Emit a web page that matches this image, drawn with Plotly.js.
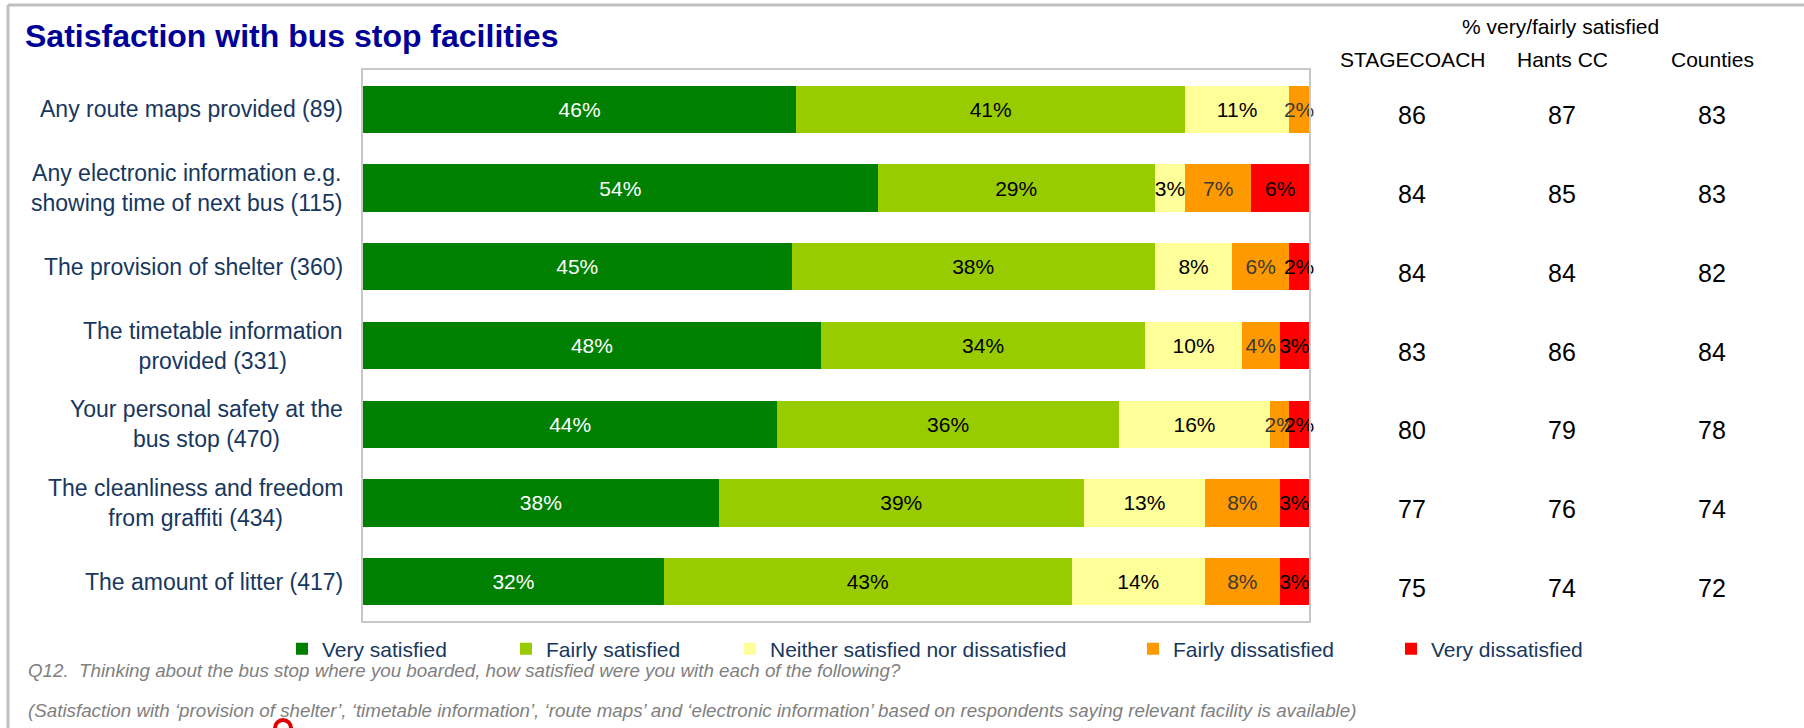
<!DOCTYPE html>
<html>
<head>
<meta charset="utf-8">
<script src="https://cdn.plot.ly/plotly-3.0.1.min.js"></script>
<style>
  html, body { margin: 0; padding: 0; background: #ffffff; }
  #chart { width: 1804px; height: 728px; }
</style>
</head>
<body>
<div id="chart"></div>
<script>
// ---------------- DATA ----------------
const categories = [
  "Any route maps provided (89)",
  "Any electronic information e.g.<br>showing time of next bus (115)",
  "The provision of shelter (360)",
  "The timetable information<br>provided (331)",
  "Your personal safety at the<br>bus stop (470)",
  "The cleanliness and freedom<br>from graffiti (434)",
  "The amount of litter (417)"
];
const seriesNames = ["Very satisfied", "Fairly satisfied", "Neither satisfied nor dissatisfied", "Fairly dissatisfied", "Very dissatisfied"];
const verySatisfied      = [45.8, 54.4, 45.3, 48.4, 43.8, 37.6, 31.8];
const fairlySatisfied    = [41.1, 29.3, 38.4, 34.3, 36.1, 38.6, 43.1];
const neitherSatisfied   = [11.0, 3.2, 8.2, 10.2, 16.0, 12.8, 14.1];
const fairlyDissatisfied = [2.1, 7.0, 6.0, 4.0, 2.0, 7.9, 7.9];
const veryDissatisfied   = [0, 6.1, 2.1, 3.1, 2.1, 3.1, 3.1];

const summaryHeader = "% very/fairly satisfied";
const summaryColumns = ["STAGECOACH", "Hants CC", "Counties"];
const stagecoach = [86, 84, 84, 83, 80, 77, 75];
const hantsCC    = [87, 85, 84, 86, 79, 76, 74];
const counties   = [83, 83, 82, 84, 78, 74, 72];

const titleText = "Satisfaction with bus stop facilities";
const note1 = "Q12.  Thinking about the bus stop where you boarded, how satisfied were you with each of the following?";
const note2 = "(Satisfaction with \u2018provision of shelter\u2019, \u2018timetable information\u2019, \u2018route maps\u2019 and \u2018electronic information\u2019 based on respondents saying relevant facility is available)";

// ---------------- STYLE / LAYOUT ----------------
const FONT = "Arial, 'Liberation Sans', sans-serif";
const W = 1804, H = 728;
const PL = 363, PR = 1309, PT = 70, PB = 621;
const px2x = px => (px - PL) / (PR - PL);
const py2y = py => (PB - py) / (PB - PT);

const colors = ["#008000", "#99CC00", "#FFFF99", "#FF9900", "#FF0000"];
const textColors = ["#ffffff", "#000000", "#000000", "#3a3a3a", "#000000"];
const allSeries = [verySatisfied, fairlySatisfied, neitherSatisfied, fairlyDissatisfied, veryDissatisfied];
const legendSymbolCenters = [304, 528, 752, 1155, 1413];

const traces = allSeries.map((vals, i) => ({
  type: "bar",
  orientation: "h",
  name: seriesNames[i],
  x: vals,
  y: categories,
  marker: { color: colors[i], line: { width: 0 } },
  text: vals.map(v => v > 0 ? Math.round(v) + "%" : ""),
  textposition: "inside",
  insidetextanchor: "middle",
  constraintext: "none",
  textangle: 0,
  cliponaxis: false,
  insidetextfont: { family: FONT, size: 21, color: textColors[i] },
  hoverinfo: "skip",
  showlegend: true,
  legend: i === 0 ? "legend" : "legend" + (i + 1)
}));

const annotations = [];
// category labels
categories.forEach(c => {
  annotations.push({
    xref: "paper", yref: "y", x: 0, y: c, xanchor: "right", yanchor: "middle",
    xshift: -18, text: c, align: "center", showarrow: false,
    font: { family: FONT, size: 23, color: "#17375E" }
  });
});
// summary columns
const colCenters = [1412, 1562, 1712];
const colData = [stagecoach, hantsCC, counties];
summaryColumns.forEach((name, j) => {
  annotations.push({
    xref: "paper", yref: "paper", x: px2x(colCenters[j]), y: py2y(59),
    xanchor: "center", yanchor: "middle", text: name, showarrow: false,
    font: { family: FONT, size: 21, color: "#000000" }
  });
  colData[j].forEach((v, k) => {
    annotations.push({
      xref: "paper", yref: "y", x: px2x(colCenters[j]), y: categories[k],
      xanchor: "center", yanchor: "middle", text: String(v), showarrow: false,
      yshift: -6,
      font: { family: FONT, size: 25, color: "#000000" }
    });
  });
});
annotations.push({
  xref: "paper", yref: "paper", x: px2x(1560), y: py2y(26),
  xanchor: "center", yanchor: "middle", text: summaryHeader, showarrow: false,
  font: { family: FONT, size: 21, color: "#000000" }
});
// footnotes
annotations.push({
  xref: "paper", yref: "paper", x: px2x(26), y: py2y(670),
  xanchor: "left", yanchor: "middle", text: "<i>" + note1 + "</i>", showarrow: false,
  font: { family: FONT, size: 18.75, color: "#808080" }
});
annotations.push({
  xref: "paper", yref: "paper", x: px2x(26), y: py2y(710),
  xanchor: "left", yanchor: "middle", text: "<i>" + note2 + "</i>", showarrow: false,
  font: { family: FONT, size: 18.75, color: "#808080" }
});

const shapes = [
  // outer slide border (top and left)
  { type: "line", xref: "paper", yref: "paper", x0: px2x(8), x1: px2x(1804), y0: py2y(5), y1: py2y(5),
    line: { color: "#c0c0c0", width: 3 } },
  { type: "line", xref: "paper", yref: "paper", x0: px2x(8), x1: px2x(8), y0: py2y(5), y1: py2y(728),
    line: { color: "#c0c0c0", width: 3 } },
  // small red pointer mark at bottom
  { type: "circle", xref: "paper", yref: "paper", x0: px2x(275), x1: px2x(291), y0: py2y(720), y1: py2y(736),
    line: { color: "#e00000", width: 4 } }
];

const layout = {
  width: W, height: H,
  margin: { l: PL, r: W - PR, t: PT, b: H - PB, pad: 0 },
  paper_bgcolor: "#ffffff",
  plot_bgcolor: "#ffffff",
  showlegend: true,
  barmode: "stack",
  bargap: 0.4,
  font: { family: FONT },
  title: {
    text: titleText,
    font: { family: FONT, size: 32, color: "#000099", weight: "bold" },
    xref: "container", yref: "container",
    x: 25 / W, xanchor: "left",
    y: 1 - 36 / H, yanchor: "middle"
  },
  xaxis: {
    range: [0, 100], showticklabels: false, showgrid: false, zeroline: false,
    showline: true, mirror: true, linecolor: "#c8c8c8", linewidth: 2, fixedrange: true
  },
  yaxis: {
    type: "category", range: [6.5, -0.5], showticklabels: false, showgrid: false, zeroline: false,
    showline: true, mirror: true, linecolor: "#c8c8c8", linewidth: 2, fixedrange: true
  },
  annotations: annotations,
  shapes: shapes,
  hovermode: false
};
// one legend per series so each entry sits where the reference shows it
legendSymbolCenters.forEach((cx, i) => {
  const key = i === 0 ? "legend" : "legend" + (i + 1);
  layout[key] = {
    orientation: "h", x: px2x(cx - 22), xanchor: "left", y: py2y(649), yanchor: "middle",
    bgcolor: "rgba(0,0,0,0)", borderwidth: 0,
    font: { family: FONT, size: 21, color: "#17375E" }
  };
});

Plotly.newPlot("chart", traces, layout, { displayModeBar: false, staticPlot: true });
</script>
</body>
</html>
